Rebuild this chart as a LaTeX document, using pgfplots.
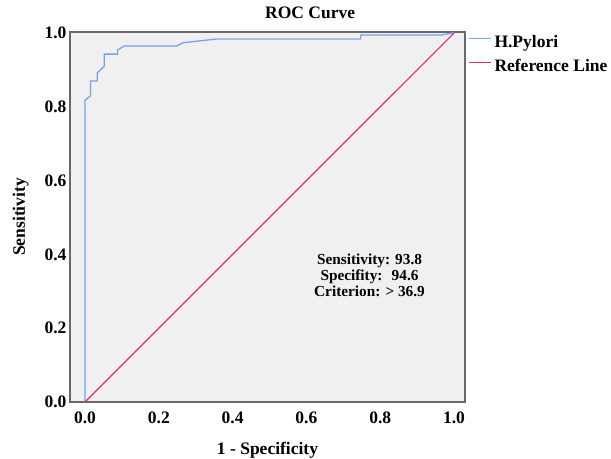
\documentclass[border=0pt]{standalone}
\usepackage{fontspec}
\setmainfont{Liberation Serif}
\usepackage{pgfplots}
\pgfplotsset{compat=1.18}
\definecolor{rocblue}{RGB}{115,165,235}
\definecolor{refred}{RGB}{225,45,95}
\definecolor{panelgray}{RGB}{240,240,240}
\definecolor{framegray}{RGB}{105,105,105}
\newcommand{\lbl}{\fontsize{17.5bp}{20bp}\selectfont\bfseries}
\newcommand{\note}{\fontsize{15.3bp}{15.8bp}\selectfont\bfseries}
\begin{document}
\begin{tikzpicture}
\useasboundingbox (-70bp,-57bp) rectangle (541bp,402bp);
\begin{axis}[
    scale only axis,
    width=395bp, height=370bp,
    xmin=-0.0407, xmax=1.0298,
    ymin=0, ymax=1.003,
    axis background/.style={fill=panelgray},
    axis line style={framegray, line width=1.3bp},
    xtick={0,0.2,0.4,0.6,0.8,1},
    xticklabels={0.0,0.2,0.4,0.6,0.8,1.0},
    ytick={0,0.2,0.4,0.6,0.8,1},
    yticklabels={0.0,0.2,0.4,0.6,0.8,1.0},
    major tick length=0pt,
    tick label style={font=\lbl},
    xticklabel style={anchor=base, yshift=-21bp},
    title={ROC Curve},
    title style={at={(axis description cs:0.608,1.019)}, anchor=base, font=\lbl},
    xlabel={1 - Specificity},
    xlabel style={at={(axis description cs:0.5,-0.143)}, anchor=base, font=\lbl},
    ylabel={Sensitivity},
    ylabel style={at={(axis description cs:-0.114,0.5)}, anchor=base, font=\lbl},
    legend style={at={(axis description cs:1,1)}, anchor=north west,
        xshift=3bp, yshift=-3bp, draw=none, fill=none, inner sep=0pt,
        column sep=3bp, row sep=8bp, font=\lbl,
        nodes={inner sep=0pt, text height=12bp, text depth=4bp}},
    legend cell align=left,
    legend image code/.code={\path (0bp,0bp); \draw[#1] (0bp,5bp) -- (22bp,5bp);},
]
% ROC curve
\addplot[rocblue, line width=1.3bp] coordinates {
    (0,0) (0,0.818) (0.015,0.83) (0.015,0.87) (0.033,0.87) (0.033,0.892)
    (0.052,0.91) (0.052,0.943) (0.088,0.943) (0.088,0.954) (0.106,0.965)
    (0.248,0.965) (0.266,0.974) (0.357,0.984) (0.747,0.984) (0.747,0.995)
    (0.967,0.995) (0.994,1.0) (1,1)
};
\addlegendentry{H.Pylori}
% diagonal
\addplot[refred, line width=1.2bp] coordinates {(0,0) (1,1)};
\addlegendentry{Reference Line}
\node[align=center, font=\note] at (axis cs:0.771,0.344)
    {Sensitivity: 93.8\\Specifity:\hspace{0.6em}94.6\\Criterion: > 36.9};
\end{axis}
\end{tikzpicture}
\end{document}
